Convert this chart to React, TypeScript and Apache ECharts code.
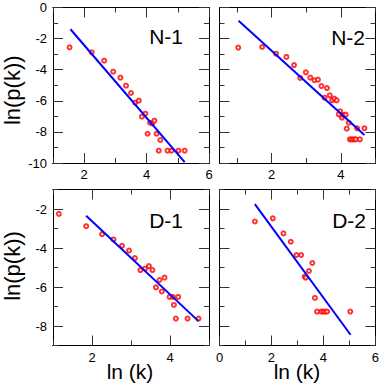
import React, { useEffect, useRef } from "react";
import * as echarts from "echarts";

// ---------- data ----------
const N1_X = [1.53, 2.24, 2.64, 2.93, 3.16, 3.34, 3.5, 3.63, 3.75, 3.85, 3.96, 4.03, 4.11, 4.18, 4.25, 4.32, 4.44, 4.39, 4.67, 4.8, 5.02, 5.22];
const N1_Y = [-2.56, -2.88, -3.42, -4.13, -4.51, -5.03, -5.5, -6.12, -5.99, -7.02, -6.83, -8.12, -7.41, -7.45, -7.28, -8.12, -8.52, -9.21, -9.21, -9.21, -9.21, -9.21];
const N1_FIT_X = [1.56, 5.22];
const N1_FIT_Y = [-1.4, -9.95];

const N2_X = [1.04, 1.73, 2.13, 2.43, 2.65, 2.99, 2.83, 3.12, 3.24, 3.34, 3.44, 3.6, 3.53, 3.68, 3.75, 3.81, 3.88, 3.98, 3.94, 4.03, 4.07, 4.14, 4.23, 4.17, 4.47, 4.68, 4.26, 4.32, 4.38, 4.43, 4.55];
const N2_Y = [-2.58, -2.54, -2.97, -3.18, -3.7, -4.17, -4.53, -4.51, -4.68, -4.64, -5.05, -5.18, -5.8, -5.65, -5.97, -5.86, -5.97, -6.68, -6.87, -7.09, -6.91, -6.89, -7.41, -7.79, -7.77, -7.77, -8.48, -8.48, -8.48, -8.48, -8.48];
const N2_FIT_X = [1.05, 4.68];
const N2_FIT_Y = [-0.85, -8.2];

const D1_X = [1.15, 1.85, 2.26, 2.55, 2.77, 2.95, 3.1, 3.24, 3.36, 3.46, 3.55, 3.64, 3.73, 3.79, 3.86, 3.99, 4.07, 4.1, 4.21, 4.15, 4.45, 4.73];
const D1_Y = [-2.25, -2.88, -3.29, -3.56, -3.89, -4.13, -4.52, -5.13, -5.06, -4.93, -5.13, -6.02, -5.64, -6.23, -5.52, -6.51, -6.51, -6.92, -6.51, -7.62, -7.62, -7.62];
const D1_FIT_X = [1.85, 4.73];
const D1_FIT_Y = [-2.35, -7.75];

const D2_X = [1.36, 2.05, 2.46, 2.74, 2.96, 3.14, 3.57, 3.44, 3.28, 3.32, 3.67, 3.75, 3.91, 3.99, 4.07, 4.14, 5.03];
const D2_Y = [-2.64, -2.48, -3.25, -3.68, -4.36, -4.36, -4.77, -5.18, -5.47, -5.52, -6.56, -7.26, -7.26, -7.26, -7.26, -7.26, -7.26];
const D2_FIT_X = [1.36, 5.04];
const D2_FIT_Y = [-1.75, -8.45];

const PANEL_NAMES = ["N-1", "N-2", "D-1", "D-2"];
const Y_TITLE = "ln(p(k))";
const X_TITLE = "ln (k)";

// axis ranges and tick values
const X_RANGES = [[1, 6], [0.5, 5], [1, 5], [0, 6]];
const Y_RANGES = [[-10, 0], [-10, 0], [-9, -1], [-9, -1]];
const X_MAJOR = [[2, 4, 6], [2, 4], [2, 4], [0, 2, 4, 6]];
const X_MINOR = [[1, 3, 5], [1, 3, 5], [1, 3, 5], [1, 3, 5]];
const Y_MAJOR = [[0, -2, -4, -6, -8, -10], [0, -2, -4, -6, -8, -10], [-2, -4, -6, -8], [-2, -4, -6, -8]];
const Y_MINOR = [[-1, -3, -5, -7, -9], [-1, -3, -5, -7, -9], [-1, -3, -5, -7, -9], [-1, -3, -5, -7, -9]];
// label layout: [splitNumber, showMinLabel, showMaxLabel]
const X_LAB = [[3, false, true], [2, false, false], [2, false, false], [3, true, true]];
const Y_LAB = [[5, true, true], [5, true, true], [4, false, false], [4, false, false]];
const Y_LABELS_SHOWN = [true, false, true, false];

const FONT = "Liberation Sans";

function tickAxis(g: number, pos: string, range: number[], vals: number[], len: number) {
  return {
    type: "value",
    gridIndex: g,
    position: pos,
    min: range[0],
    max: range[1],
    axisLine: { show: true, onZero: false, lineStyle: { color: "#000" } },
    axisTick: { show: true, inside: true, length: len, customValues: vals, lineStyle: { color: "#333", width: 1 } },
    axisLabel: { show: false },
    splitLine: { show: false },
  };
}

function labelAxis(g: number, pos: string, range: number[], lab: any[], show: boolean, isX: boolean) {
  return {
    type: "value",
    gridIndex: g,
    position: pos,
    min: range[0],
    max: range[1],
    splitNumber: lab[0],
    axisLine: { show: true, onZero: false, lineStyle: { color: "#000" } },
    axisTick: { show: false },
    axisLabel: {
      show,
      showMinLabel: lab[1],
      showMaxLabel: lab[2],
      fontFamily: FONT,
      fontSize: 13,
      color: "#000",
      margin: isX ? 5 : 6,
    },
    splitLine: { show: false },
  };
}

export default function App() {
  const ref = useRef<HTMLDivElement>(null);
  useEffect(() => {
    if (!ref.current) return;
    const chart = echarts.init(ref.current, null, { renderer: "svg" });

    const rects = [
      { left: 53, top: 7.5, width: 156, height: 155.5 },
      { left: 219.5, top: 7.5, width: 156, height: 155.5 },
      { left: 53, top: 189.5, width: 156, height: 156 },
      { left: 219.5, top: 189.5, width: 156, height: 156 },
    ];
    // A: major ticks + data, B: minor ticks, C: labels
    const grids = [...rects, ...rects, ...rects].map((r) => ({ ...r }));

    const xAxis: any[] = [];
    const yAxis: any[] = [];
    const xIdx: number[] = [];
    const yIdx: number[] = [];
    for (let p = 0; p < 4; p++) {
      xIdx.push(xAxis.length);
      yIdx.push(yAxis.length);
      xAxis.push(tickAxis(p, "bottom", X_RANGES[p], X_MAJOR[p], 10));
      xAxis.push(tickAxis(p, "top", X_RANGES[p], X_MAJOR[p], 10));
      yAxis.push(tickAxis(p, "left", Y_RANGES[p], Y_MAJOR[p], 10));
      yAxis.push(tickAxis(p, "right", Y_RANGES[p], Y_MAJOR[p], 10));
    }
    for (let p = 0; p < 4; p++) {
      xAxis.push(tickAxis(4 + p, "bottom", X_RANGES[p], X_MINOR[p], 5));
      xAxis.push(tickAxis(4 + p, "top", X_RANGES[p], X_MINOR[p], 5));
      yAxis.push(tickAxis(4 + p, "left", Y_RANGES[p], Y_MINOR[p], 5));
      yAxis.push(tickAxis(4 + p, "right", Y_RANGES[p], Y_MINOR[p], 5));
    }
    for (let p = 0; p < 4; p++) {
      xAxis.push(labelAxis(8 + p, "bottom", X_RANGES[p], X_LAB[p], true, true));
      const ya: any = labelAxis(8 + p, "left", Y_RANGES[p], Y_LAB[p], Y_LABELS_SHOWN[p], false);
      if (Y_LABELS_SHOWN[p]) {
        ya.name = Y_TITLE;
        ya.nameLocation = "middle";
        ya.nameRotate = 90;
        ya.nameGap = 30;
        ya.nameTextStyle = {
          fontFamily: FONT,
          fontSize: 22,
          color: "#000",
          padding: p === 0 ? [0, 10, 0, 0] : [0, 0, 0, 3],
        };
      }
      yAxis.push(ya);
    }

    const panels = [
      [N1_X, N1_Y, N1_FIT_X, N1_FIT_Y],
      [N2_X, N2_Y, N2_FIT_X, N2_FIT_Y],
      [D1_X, D1_Y, D1_FIT_X, D1_FIT_Y],
      [D2_X, D2_Y, D2_FIT_X, D2_FIT_Y],
    ];

    const series: any[] = [];
    panels.forEach(([xs, ys, fx, fy], i) => {
      series.push({
        type: "scatter",
        xAxisIndex: xIdx[i],
        yAxisIndex: yIdx[i],
        symbol: "emptyCircle",
        symbolSize: 4,
        itemStyle: { color: "#ff0000", borderColor: "#ff0000", borderWidth: 1 },
        data: xs.map((x, j) => [x, ys[j]]),
      });
      series.push({
        type: "line",
        xAxisIndex: xIdx[i],
        yAxisIndex: yIdx[i],
        showSymbol: false,
        symbol: "none",
        lineStyle: { color: "#0000ff", width: 2 },
        data: fx.map((x, j) => [x, fy[j]]),
      });
    });

    const namePos = [
      [183, 37],
      [365, 38],
      [183, 221],
      [366, 221],
    ];
    const titleStyle = { fontFamily: FONT, fontWeight: "normal", color: "#000" };
    const title: any[] = [
      ...PANEL_NAMES.map((t, i) => ({
        text: t,
        right: 382 - namePos[i][0],
        top: namePos[i][1] - 11,
        padding: 0,
        textStyle: { ...titleStyle, fontSize: 21 },
      })),
      { text: X_TITLE, left: 130, textAlign: "center", top: 361, padding: 0, textStyle: { ...titleStyle, fontSize: 21 } },
      { text: X_TITLE, left: 297, textAlign: "center", top: 361, padding: 0, textStyle: { ...titleStyle, fontSize: 21 } },
    ];

    chart.setOption({
      animation: false,
      title,
      grid: grids,
      xAxis,
      yAxis,
      series,
    });
    return () => chart.dispose();
  }, []);
  return (
    <div
      ref={ref}
      style={{ position: "fixed", left: 0, top: 0, width: 382, height: 389, background: "#fff" }}
    />
  );
}
